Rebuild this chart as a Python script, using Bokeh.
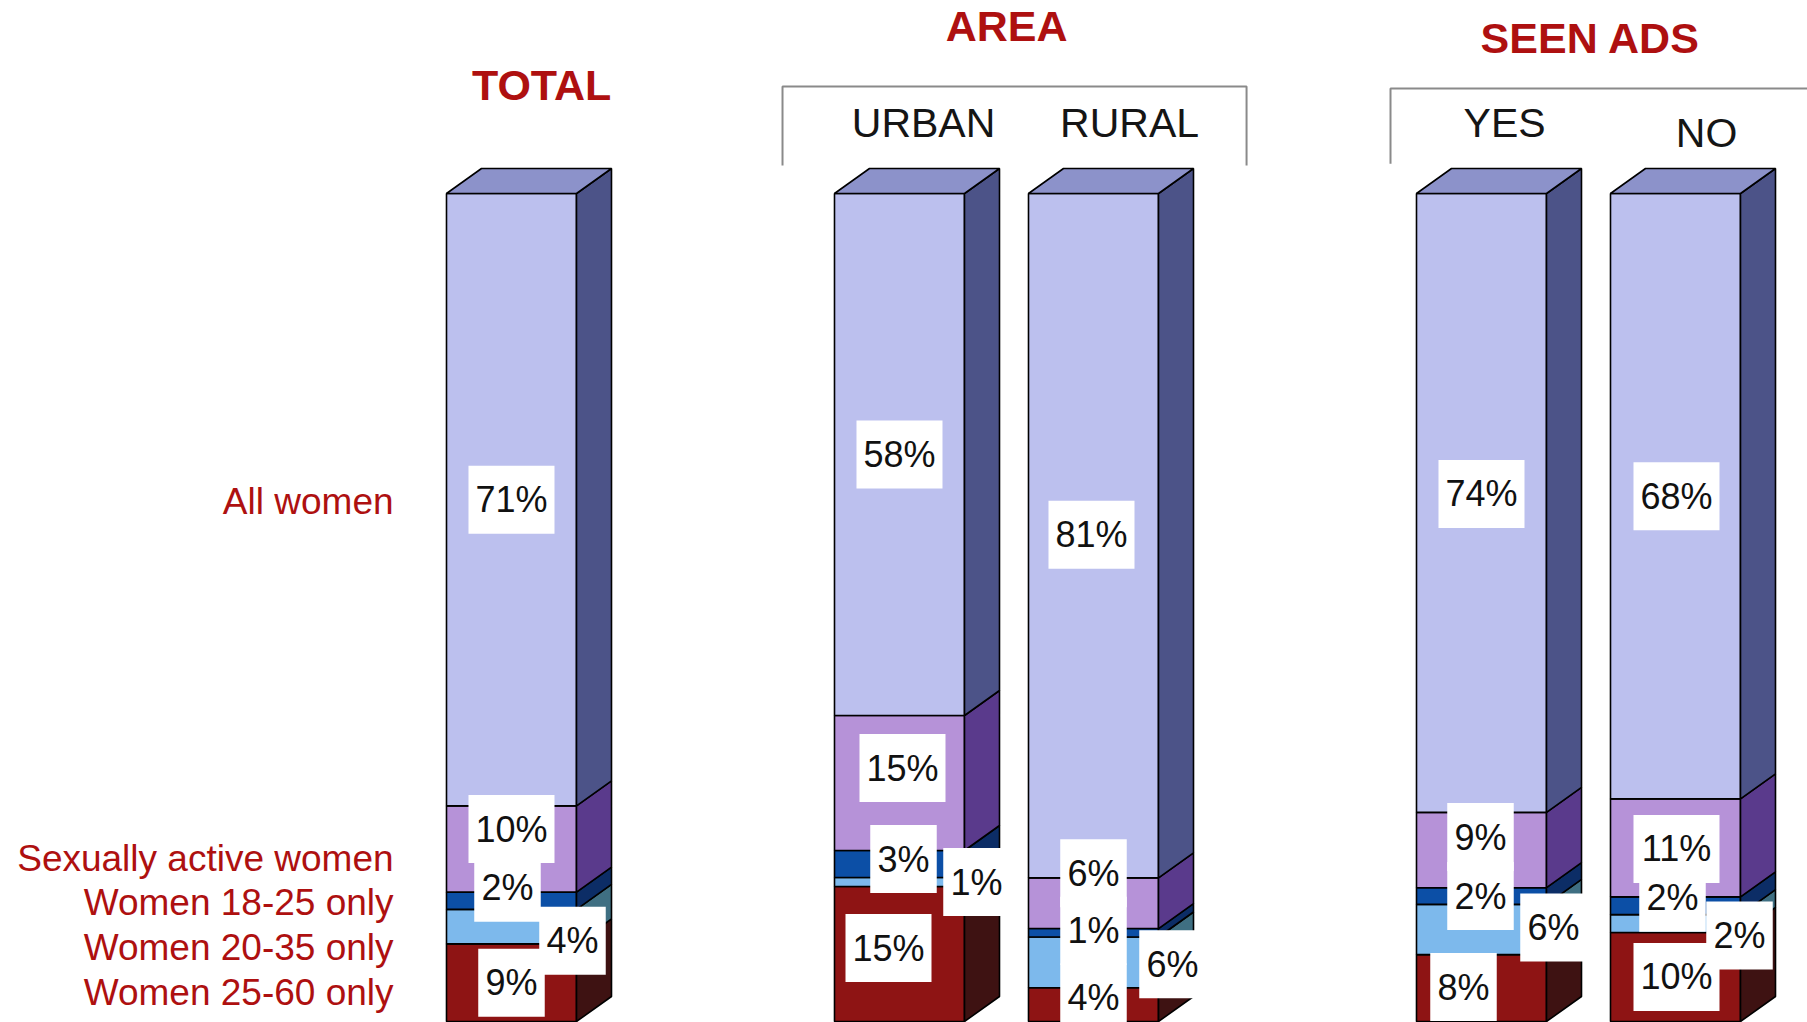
from bokeh.plotting import figure
from bokeh.models import Range1d, ColumnDataSource
from bokeh.embed import file_html
from bokeh.resources import INLINE
from bokeh.core.properties import value

# ---------------- data ----------------
groups = ["TOTAL", "URBAN", "RURAL", "YES", "NO"]
bar_slots = [0, 2, 3, 5, 6]
segment_names = ["Women 25-60 only", "Women 20-35 only", "Women 18-25 only",
                 "Sexually active women", "All women"]
women_25_60 = [9, 15, 4, 8, 10]
women_20_35 = [4, 1, 6, 6, 2]
women_18_25 = [2, 3, 1, 2, 2]
sexually_active = [10, 15, 6, 9, 11]
all_women = [71, 58, 81, 74, 68]
group_titles = ["TOTAL", "AREA", "SEEN ADS"]
sub_labels = ["URBAN", "RURAL", "YES", "NO"]

# ---------------- styles / layout ----------------
front_colors = ["#8E1414", "#7DB9EC", "#0C4FA6", "#B692D8", "#BCC0EE"]
side_colors = ["#3E1212", "#3F6F82", "#0C2D66", "#5A3A8C", "#4C5388"]
top_color = "#8C92CA"
RED = "#AE1010"
FONT = value("Liberation Sans")

K_Y = 8.28    # px per percent
K_X = 194.0   # px per slot
W = 130 / K_X
DX = 35 / K_X
DY = 25 / K_Y

# label offsets in px (bottom -> top segment), per bar
lab_dx = [[0, 61, -4, 0, 0], [-11, 77, 4, 3, 0], [0, 79, 0, 0, -2],
          [-18, 72, -1, -1, 0], [1, 64, -3, 1, 1]]
lab_dy = [[0, 14, -13, -20, 0], [-6, 0, -5, -15, 0], [-7, 2, -2, -30, -1],
          [-1, -2, 0, -13, -9], [0, 12, -8, 1, 0]]

p = figure(width=1807, height=1022, output_backend="svg", toolbar_location=None,
           x_range=Range1d(-2.634, -2.634 + 1807 / K_X),
           y_range=Range1d(-1 / K_Y, -1 / K_Y + 1022 / K_Y),
           x_axis_type=None, y_axis_type=None, min_border=0)
p.grid.visible = False
p.outline_line_color = None
p.background_fill_color = "white"
p.border_fill_color = "white"

series = [women_25_60, women_20_35, women_18_25, sexually_active, all_women]

fr = dict(left=[], right=[], bottom=[], top=[], color=[])
sd = dict(xs=[], ys=[], color=[])
tp = dict(xs=[], ys=[])
lb = dict(x=[], y=[], text=[], w=[])
for i, xc in enumerate(bar_slots):
    vals = [s[i] for s in series]
    tot = float(sum(vals))
    cum = 0
    xl, xr = xc - W / 2, xc + W / 2
    for j, v in enumerate(vals):
        y0 = cum / tot * 100
        cum += v
        y1 = cum / tot * 100
        fr["left"].append(xl); fr["right"].append(xr)
        fr["bottom"].append(y0); fr["top"].append(y1)
        fr["color"].append(front_colors[j])
        sd["xs"].append([xr, xr + DX, xr + DX, xr])
        sd["ys"].append([y0, y0 + DY, y1 + DY, y1])
        sd["color"].append(side_colors[j])
        txt = "%d%%" % v
        lb["x"].append(xc + lab_dx[i][j] / K_X)
        lb["y"].append((y0 + y1) / 2 - lab_dy[i][j] / K_Y)
        lb["text"].append(txt)
        lb["w"].append(19.5 * (len(txt) - 1) + 31 + 16)
    tp["xs"].append([xl, xl + DX, xr + DX, xr])
    tp["ys"].append([100, 100 + DY, 100 + DY, 100])

p.quad(source=ColumnDataSource(fr), left="left", right="right", bottom="bottom",
       top="top", fill_color="color", line_color="black", line_width=1.6)
p.patches(source=ColumnDataSource(sd), xs="xs", ys="ys", fill_color="color",
          line_color="black", line_width=1.6)
p.patches(source=ColumnDataSource(tp), xs="xs", ys="ys", fill_color=top_color,
          line_color="black", line_width=1.6)

lsrc = ColumnDataSource(lb)
p.rect(source=lsrc, x="x", y="y", width="w", height=68, width_units="screen",
       height_units="screen", fill_color="white", line_color=None)
p.text(source=lsrc, x="x", y="y", text="text", text_font=FONT,
       text_font_size=value("36px"), text_align="center", text_baseline="middle",
       text_color="#111111")

# legend-like labels on the left
left_y = [3.5, 8.94, 14.37, 19.69, 62.8]
p.text(x=[-0.608] * 5, y=left_y, text=segment_names, text_font=FONT,
       text_font_size=value("37px"), text_align="right", text_baseline="middle",
       text_color=RED)

# group titles
p.text(x=[0.155, 2.552, 5.562], y=[113.16, 120.17, 118.72], text=group_titles,
       text_font=FONT, text_font_size=value("43px"), text_font_style="bold",
       text_align="center", text_baseline="middle", text_color=RED)

# sub labels
p.text(x=[2.124, 3.186, 5.119, 6.160], y=[108.57, 108.57, 108.57, 107.25],
       text=sub_labels, text_font=FONT, text_font_size=value("41px"),
       text_align="center", text_baseline="middle", text_color="#151515")

# brackets
p.multi_line(xs=[[1.397, 1.397, 3.789, 3.789], [4.531, 4.531, 6.7]],
             ys=[[103.38, 112.92, 112.92, 103.38], [103.6, 112.68, 112.68]],
             line_color="#8A8A8A", line_width=2)

open("out.html", "w").write(file_html(p, INLINE))
